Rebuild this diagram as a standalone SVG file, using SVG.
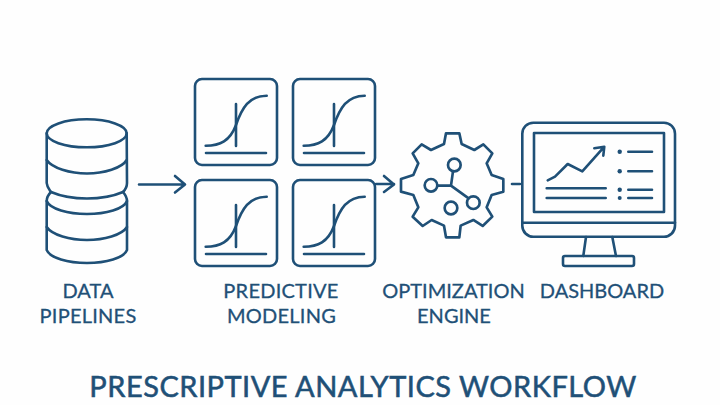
<svg xmlns="http://www.w3.org/2000/svg" width="720" height="405" viewBox="0 0 720 405">
<style>
.s{fill:none;stroke:#1f5077;stroke-width:2.6;stroke-linecap:round;stroke-linejoin:round}
.l{font-family:"Lato","Liberation Sans",sans-serif;font-size:20px;fill:#1f5077;stroke:#1f5077;stroke-width:.3;text-anchor:middle}
.w{letter-spacing:.25px}
.h{font-size:29px;stroke-width:.55;letter-spacing:.5px}
.d{fill:#1f5077;stroke:none}
</style>
<defs>
<g id="chart"><rect class="s" x="0" y="0" width="82" height="86" rx="7"/>
<path class="s" d="M10.700 66.700C25 66.700 35 62 41 46C47 29 54 16.700 71.700 16.700"/>
<path class="s" d="M41 25V67M11 74H71"/></g>
</defs>
<rect width="720" height="405" fill="#fefefe"/>
<g id="connectors">
<path class="s" d="M139 184.500H185M175 176L185 184.500L175 192.500"/>
<path class="s" d="M376 184H394M384 176L394 184.500L384 192"/>
<path class="s" d="M512 184H520"/>
</g>
<g id="data-pipelines">
<ellipse class="s" cx="86.700" cy="133.300" rx="40" ry="14"/>
<path class="s" d="M46.700 133.300V183C47 187 49 189 51 192C58 195 72 198.500 87 198.500C102 198.500 116 195 123 192C126 189 127 187 127 183L126.700 133.300"/>
<path class="s" d="M46.700 160C52 168 70 173.500 87 173.500C104 173.500 122 168 126.700 160"/>
<path class="s" d="M51 192C48 195 46.700 198 46.700 201V250C50 258 68 263 87 263C106 263 124 258 127 250V201C127 198 125.500 195 123 192"/>
<path class="s" d="M46.700 201C50 209 68 214 87 214C106 214 124 209 127 201"/>
<path class="s" d="M46.700 227C52 235 70 240 87 240C104 240 122 235 127 227"/>
<text class="l" x="88" y="298">DATA</text>
<text class="l w" x="88" y="323">PIPELINES</text>
</g>
<g id="predictive-modeling">
<use href="#chart" x="195" y="79"/>
<use href="#chart" x="293" y="79"/>
<use href="#chart" x="195" y="180"/>
<use href="#chart" x="293" y="180"/>
<text class="l w" x="281" y="298">PREDICTIVE</text>
<text class="l w" x="281.500" y="323">MODELING</text>
</g>
<g id="optimization-engine" transform="translate(370 120) scale(.3333)">
<path class="s" style="stroke-width:8" d="M228 40H268L275 72L313 90L340 73L367 100L350 130L365 165L400 177V215L365 225L350 262L367 290L338 318L310 300L272 317L268 352H228L222 317L185 300L158 318L128 290L145 262L130 225L93 215V177L130 165L145 130L128 100L155 73L183 90L222 72Z"/>
<g class="s" style="stroke-width:8">
<circle cx="253" cy="135" r="19"/><circle cx="183" cy="196" r="19"/><circle cx="310" cy="248" r="19"/><circle cx="243" cy="264" r="19"/>
<path d="M249 154L243 197H202M243 197L296 235"/>
</g>
</g>
<g id="optimization-label">
<text class="l" x="453.500" y="298">OPTIMIZATION</text>
<text class="l" x="454" y="323">ENGINE</text>
</g>
<g id="dashboard">
<rect class="s" x="522.300" y="122.700" width="152.700" height="114" rx="11"/>
<path class="s" d="M522.300 222.700H675"/>
<rect class="s" x="534" y="133" width="130" height="79"/>
<path class="s" d="M586 237L583.300 256M612.300 237L616 256"/>
<rect class="s" x="563" y="256" width="71" height="10" rx="2"/>
<path class="s" d="M547.700 180.300L555 176.700L567.700 164L582.300 171.300L603.700 147.300M594.300 148.300L604.300 146.700L603.300 155.700"/>
<path class="s" d="M546.700 188.300H605.700M546.700 198H605.700M628.300 151.700H652M628.300 171.300H652M628.300 189.700H652M628.300 198H652"/>
<circle class="d" cx="619.700" cy="151.700" r="2.200"/><circle class="d" cx="619.700" cy="171.300" r="2.200"/><circle class="d" cx="619.700" cy="189.700" r="2.200"/><circle class="d" cx="619.700" cy="198" r="2"/>
<text class="l" x="602" y="298">DASHBOARD</text>
</g>
<text id="title" class="l h" x="363" y="397">PRESCRIPTIVE ANALYTICS WORKFLOW</text>
</svg>
